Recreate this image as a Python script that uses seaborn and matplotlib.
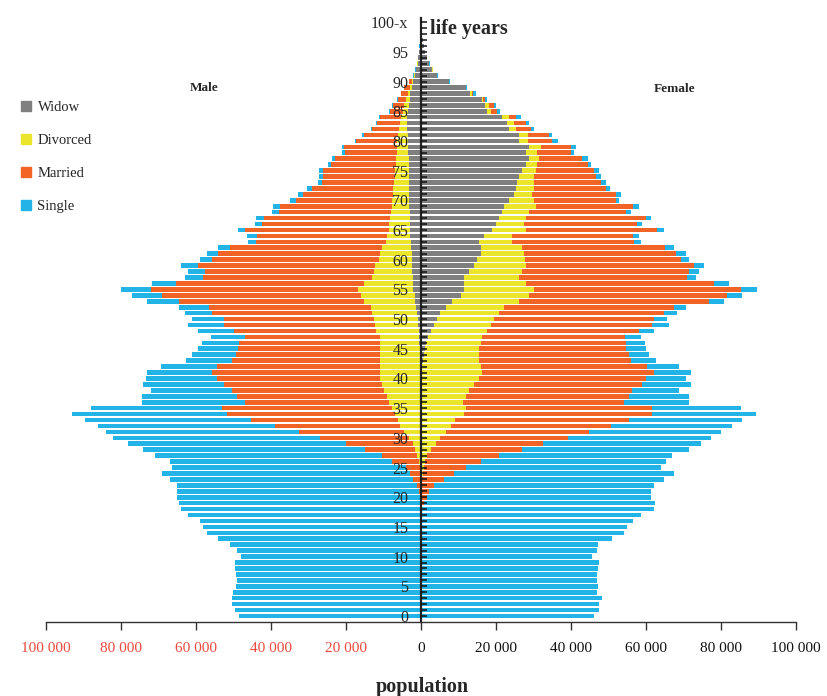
import numpy as np
import pandas as pd
import matplotlib
matplotlib.use("Agg")
import matplotlib.pyplot as plt
from matplotlib.lines import Line2D
from matplotlib.ticker import MultipleLocator, FixedLocator
import seaborn as sns

# ---------------- data (thousands of persons, ages 0..100) ----------------
ages = list(range(0, 101))
age_tick_labels = [str(a) for a in range(0, 100, 5)] + ["100-x"]
status_labels = ["Widow", "Divorced", "Married", "Single"]
x_tick_values = [-100000, -80000, -60000, -40000, -20000, 0, 20000, 40000, 60000, 80000, 100000]

# Male: total population, ever married (married+divorced+widowed),
# divorced+widowed, widowed
male_total = [
    48.5, 49.7, 50.3, 50.5, 50.0, 49.3, 49.0, 49.3, 49.5, 49.5,
    48.0, 49.0, 51.0, 54.0, 57.0, 58.0, 59.0, 62.0, 64.0, 64.5,
    65.0, 65.0, 65.0, 67.0, 69.0, 66.5, 67.0, 71.0, 74.0, 78.0,
    82.0, 84.0, 86.0, 89.6, 93.0, 88.0, 74.3, 74.3, 72.0, 74.0,
    73.4, 73.0, 69.4, 62.7, 61.0, 59.4, 58.4, 56.0, 59.4, 62.0,
    61.0, 63.0, 64.5, 73.0, 77.0, 80.0, 71.6, 63.0, 62.0, 64.0,
    59.0, 57.0, 54.0, 46.0, 46.3, 48.7, 44.3, 43.9, 39.6, 39.5,
    34.8, 32.7, 30.3, 27.4, 27.2, 27.2, 24.7, 23.6, 21.0, 21.0,
    17.7, 15.8, 13.4, 12.0, 11.2, 8.5, 7.6, 6.3, 5.4, 4.5,
    3.2, 2.0, 1.5, 1.1, 0.8, 0.6, 0.4, 0.3, 0.2, 0.1, 0.1]
male_ever_married = [
    0, 0, 0, 0, 0, 0, 0, 0, 0, 0,
    0, 0, 0, 0, 0, 0, 0, 0, 0, 0,
    0.2, 0.5, 1.0, 2.0, 3.0, 4.0, 7.7, 10.5, 15.0, 20.0,
    27.0, 32.5, 39.0, 45.4, 51.7, 53.0, 47.0, 49.0, 50.3, 52.5,
    54.3, 55.7, 54.3, 50.3, 49.4, 48.8, 48.5, 47.0, 49.9, 52.5,
    52.5, 55.7, 56.5, 64.5, 69.0, 72.0, 65.4, 58.0, 57.6, 59.4,
    55.7, 54.0, 51.0, 44.0, 43.8, 46.8, 42.3, 41.9, 37.8, 37.7,
    33.3, 31.4, 29.1, 26.4, 26.2, 26.2, 23.9, 22.9, 20.3, 20.4,
    17.2, 15.3, 13.0, 11.6, 10.8, 8.2, 7.4, 6.1, 5.3, 4.4,
    3.1, 1.95, 1.45, 1.05, 0.78, 0.58, 0.38, 0.28, 0.19, 0.1, 0.1]
male_div_wid = [
    0, 0, 0, 0, 0, 0, 0, 0, 0, 0,
    0, 0, 0, 0, 0, 0, 0, 0, 0, 0,
    0, 0, 0.05, 0.1, 0.2, 0.3, 0.6, 1.0, 1.5, 2.2,
    3.2, 4.5, 5.5, 6.2, 6.8, 7.8, 8.5, 9.0, 9.9, 10.4,
    11.0, 11.0, 11.0, 10.8, 11.0, 11.0, 11.0, 11.0, 12.0, 12.3,
    12.6, 13.0, 13.3, 15.2, 16.0, 16.7, 15.2, 13.0, 12.6, 12.3,
    11.2, 11.0, 10.5, 9.3, 9.0, 8.6, 8.4, 8.2, 8.0, 7.8,
    7.7, 7.5, 7.4, 7.2, 7.0, 6.8, 6.7, 6.6, 6.5, 6.4,
    6.3, 6.0, 5.8, 5.5, 5.2, 4.8, 4.4, 4.0, 3.5, 3.0,
    2.3, 1.8, 1.3, 1.0, 0.75, 0.55, 0.35, 0.25, 0.15, 0.1, 0.08]
male_widow = [
    0, 0, 0, 0, 0, 0, 0, 0, 0, 0,
    0, 0, 0, 0, 0, 0, 0, 0, 0, 0,
    0, 0, 0, 0, 0, 0, 0, 0, 0, 0,
    0, 0, 0, 0, 0, 0, 0, 0, 0, 0,
    0, 0.1, 0.1, 0.2, 0.2, 0.3, 0.4, 0.5, 0.5, 0.7,
    0.9, 1.0, 1.2, 1.5, 1.7, 2.0, 2.1, 2.2, 2.3, 2.4,
    2.5, 2.5, 2.6, 2.7, 2.8, 2.8, 2.9, 3.0, 3.0, 3.1,
    3.1, 3.1, 3.2, 3.2, 3.2, 3.3, 3.3, 3.3, 3.4, 3.4,
    3.5, 3.5, 3.6, 3.6, 3.6, 3.5, 3.3, 3.0, 2.8, 2.5,
    2.0, 1.6, 1.2, 0.9, 0.7, 0.5, 0.3, 0.2, 0.1, 0.08, 0.05]

female_total = [
    46.1, 47.5, 47.5, 48.3, 46.8, 47.2, 46.8, 47.0, 47.2, 47.5,
    45.7, 47.0, 47.2, 51.0, 54.0, 55.0, 56.4, 58.6, 62.0, 62.3,
    61.2, 61.2, 62.0, 64.8, 67.5, 63.9, 65.3, 67.0, 71.5, 74.6,
    77.2, 79.9, 83.0, 85.5, 89.2, 85.2, 71.5, 71.5, 68.8, 71.9,
    70.6, 71.9, 68.8, 62.6, 60.8, 60.0, 59.7, 58.6, 62.1, 66.1,
    65.6, 68.3, 70.6, 80.8, 85.7, 89.7, 82.1, 73.2, 74.0, 75.5,
    71.5, 70.6, 67.5, 58.6, 58.1, 64.8, 59.0, 61.2, 55.9, 58.1,
    52.8, 53.2, 50.3, 49.2, 47.9, 47.5, 45.2, 44.4, 40.8, 41.2,
    36.4, 35.0, 30.1, 28.8, 26.6, 21.2, 19.9, 17.7, 14.6, 12.3,
    7.7, 4.5, 3.2, 2.3, 1.7, 1.2, 0.8, 0.5, 0.3, 0.2, 0.3]
female_ever_married = [
    0, 0, 0, 0, 0, 0, 0, 0, 0, 0,
    0, 0, 0, 0, 0, 0, 0, 0.1, 0.4, 0.8,
    1.7, 2.1, 3.6, 6.1, 8.8, 11.9, 15.9, 20.8, 27.0, 32.6,
    39.3, 44.8, 50.6, 55.5, 61.7, 61.7, 54.1, 55.5, 56.3, 59.0,
    59.9, 62.1, 60.3, 55.9, 55.5, 54.7, 54.7, 54.4, 58.1, 61.7,
    62.1, 64.8, 67.5, 76.8, 81.6, 85.2, 78.1, 71.0, 71.5, 72.8,
    69.2, 67.9, 65.0, 56.8, 56.4, 63.0, 57.7, 59.9, 54.6, 56.4,
    51.9, 51.9, 49.2, 47.9, 46.6, 46.1, 44.4, 43.0, 39.9, 39.9,
    35.0, 34.1, 29.2, 27.9, 25.2, 20.4, 19.5, 17.2, 14.0, 12.0,
    7.5, 4.4, 3.1, 2.2, 1.65, 1.15, 0.78, 0.48, 0.29, 0.19, 0.29]
female_div_wid = [
    0, 0, 0, 0, 0, 0, 0, 0, 0, 0,
    0, 0, 0, 0, 0, 0, 0, 0, 0, 0.02,
    0.05, 0.1, 0.2, 0.4, 0.6, 0.8, 1.2, 1.7, 2.6, 3.9,
    5.2, 6.6, 7.9, 9.2, 11.5, 11.9, 11.2, 11.9, 12.8, 14.1,
    15.5, 16.4, 15.9, 15.5, 15.5, 15.5, 15.9, 16.4, 17.7, 18.6,
    19.5, 20.8, 22.1, 26.1, 28.8, 30.1, 28.0, 26.1, 27.0, 27.9,
    27.7, 27.5, 27.0, 24.3, 24.3, 27.9, 27.5, 27.9, 28.8, 30.6,
    30.1, 29.7, 30.1, 30.1, 30.1, 30.6, 31.0, 31.5, 31.0, 31.9,
    28.4, 28.4, 25.2, 24.8, 23.5, 18.6, 18.1, 16.6, 13.6, 12.0,
    7.5, 4.4, 3.1, 2.2, 1.65, 1.15, 0.78, 0.48, 0.29, 0.19, 0.29]
female_widow = [
    0, 0, 0, 0, 0, 0, 0, 0, 0, 0,
    0, 0, 0, 0, 0, 0, 0, 0, 0, 0,
    0, 0, 0, 0, 0, 0, 0, 0, 0, 0,
    0, 0, 0, 0.05, 0.05, 0.1, 0.1, 0.1, 0.15, 0.2,
    0.25, 0.3, 0.4, 0.5, 0.8, 1.1, 1.4, 2.0, 2.6, 3.5,
    4.3, 5.2, 6.6, 8.4, 10.6, 11.5, 11.5, 11.5, 12.8, 14.1,
    15.0, 16.0, 15.9, 15.5, 16.8, 19.0, 19.9, 20.8, 21.7, 22.1,
    23.5, 24.8, 25.2, 25.7, 26.1, 27.0, 27.9, 28.8, 27.9, 28.8,
    26.1, 26.1, 23.6, 23.0, 21.7, 17.7, 17.2, 16.4, 13.2, 11.9,
    7.5, 4.3, 3.0, 2.1, 1.6, 1.1, 0.75, 0.45, 0.27, 0.18, 0.27]

# ---------------- style ----------------
C_WIDOW = "#7f7f7f"
C_DIV = "#ece62a"
C_MAR = "#f26426"
C_SIN = "#22b4e6"
RED = "#ec4a3c"

sns.set_style("white")
plt.rcParams["font.family"] = ["Liberation Serif", "DejaVu Serif"]

fig = plt.figure(figsize=(8.28, 6.96), dpi=100)
ax = fig.add_axes([46 / 828, 1 - 621.5 / 696, 750 / 828, (621.5 - 18) / 696])

layers = [
    (male_total, female_total, C_SIN),
    (male_ever_married, female_ever_married, C_MAR),
    (male_div_wid, female_div_wid, C_DIV),
    (male_widow, female_widow, C_WIDOW),
]
age_arr = np.array(ages)
for m_vals, f_vals, col in layers:
    for vals, sign in ((m_vals, -1), (f_vals, 1)):
        df = pd.DataFrame({"age": age_arr, "pop": sign * np.array(vals) * 1000})
        sns.barplot(data=df, x="pop", y="age", orient="h", native_scale=True,
                    color=col, saturation=1, width=0.78, errorbar=None,
                    linewidth=0, ax=ax)

ax.set_xlim(-100000, 100000)
ax.set_ylim(-0.93, 100.7)
ax.set_axisbelow(False)

# axes decoration
for s in ("top", "right"):
    ax.spines[s].set_visible(False)
ax.spines["left"].set_position(("data", 0))
ax.spines["left"].set_linewidth(1.6)
ax.spines["left"].set_color("#222222")
ax.spines["bottom"].set_linewidth(1.0)
ax.spines["bottom"].set_color("#333333")

ax.xaxis.set_major_locator(FixedLocator(x_tick_values))
ax.set_xticklabels([f"{abs(v):,}".replace(",", " ") for v in x_tick_values], fontsize=11)
for lab, v in zip(ax.get_xticklabels(), x_tick_values):
    lab.set_color(RED if v < 0 else "#111111")
ax.tick_params(axis="x", direction="out", length=5.5, width=1, color="#333333", pad=9,
               bottom=True)

ax.yaxis.set_major_locator(FixedLocator(list(range(0, 101, 5))))
ax.yaxis.set_minor_locator(MultipleLocator(1))
ax.set_yticklabels(age_tick_labels, fontsize=11.5)
ax.tick_params(axis="y", which="both", direction="in", length=4.5, width=1.1,
               color="#111111", pad=9, left=True)
ax.set_xlabel("")
ax.set_ylabel("")

ax.text(2500, 98.8, "life years", fontsize=14.5, fontweight="bold", ha="left", va="center")
ax.text(-57900, 88.9, "Male", fontsize=9.5, fontweight="bold", ha="center", va="center")
ax.text(67700, 88.7, "Female", fontsize=9.5, fontweight="bold", ha="center", va="center")
fig.text(422 / 828, 1 - 687 / 696, "population", fontsize=14.5, fontweight="bold",
         ha="center", va="center")

handles = [Line2D([], [], marker="s", linestyle="none", markersize=7.5,
                  markerfacecolor=c, markeredgecolor=c)
           for c in (C_WIDOW, C_DIV, C_MAR, C_SIN)]
fig.legend(handles, status_labels, loc="upper left",
           bbox_to_anchor=(20 / 828, 1 - 101 / 696), frameon=False,
           fontsize=10.5, handlelength=0.8, handletextpad=0.4,
           labelspacing=1.35, borderpad=0, borderaxespad=0)

fig.savefig("out.png", dpi=100)
